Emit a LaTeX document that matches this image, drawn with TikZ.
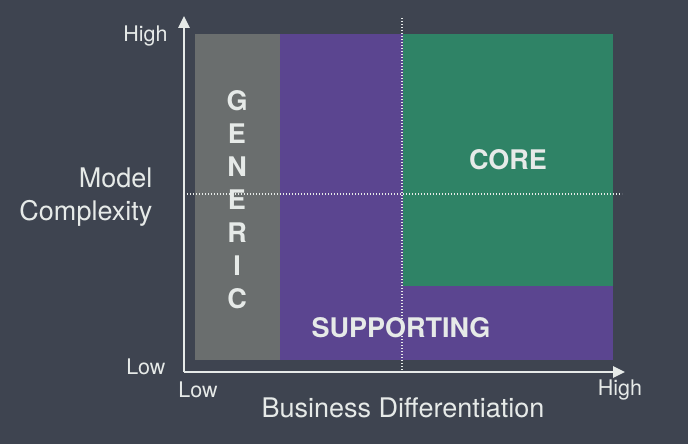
\documentclass[tikz,border=0pt]{standalone}
\usepackage{fontspec}
\setmainfont{TeX Gyre Heros}
\usetikzlibrary{arrows.meta}
\definecolor{bg}{HTML}{3E4450}
\definecolor{genericgray}{HTML}{6A6E6E}
\definecolor{supportpurple}{HTML}{5B4590}
\definecolor{coregreen}{HTML}{2F8366}
\definecolor{ink}{HTML}{E6EAE8}
\begin{document}
\begin{tikzpicture}[x=1pt,y=-1pt,
  axis/.style={draw=ink,line width=2.6pt,-{Triangle[width=11pt,length=12pt]}},
  guide/.style={draw=ink,line width=1.1pt,dash pattern=on 1.4pt off 1.6pt},
  tick/.style={text=ink,font=\fontsize{21.5}{21.5}\selectfont},
  title/.style={text=ink,font=\fontsize{27}{33}\selectfont},
  zone/.style={text=ink,font=\bfseries\fontsize{27}{27}\selectfont}]
\useasboundingbox[fill=bg] (0,0) rectangle (688,444);
% quadrant regions
\fill[genericgray] (195,34) rectangle (280,360);
\fill[supportpurple] (280,34) rectangle (613,360);
\fill[coregreen] (403,34) rectangle (613,286);
% guide lines splitting the quadrants
\coordinate (vtop) at (402,18);
\coordinate (vbot) at (402,372);
\coordinate (hleft) at (184,194);
\coordinate (hright) at (622,194);
\draw[guide] (vtop) -- (vbot);
\draw[guide] (hleft) -- (hright);
% axes
\coordinate (origin) at (184,372);
\coordinate (ytip) at (184,16);
\coordinate (xtip) at (625,372);
\draw[axis] (origin) -- (ytip);
\draw[axis] (origin) -- (xtip);
% axis ticks and titles
\node[tick,anchor=east] (yhigh) at (171,36) {High};
\node[tick,anchor=east] (ylow) at (169,367) {Low};
\node[tick] (xlow) at (198,390) {Low};
\node[tick] (xhigh) at (620,390) {High};
\node[title,align=right,anchor=east] (ytitle) at (156,197) {Model\\Complexity};
\node[title] (xtitle) at (403,408) {Business Differentiation};
% region labels
\foreach \ch [count=\i from 0] in {G,E,N,E,R,I,C}
  \node[zone] (gen\i) at (237,{101+33*\i}) {\ch};
\node[zone] (core) at (508,160) {CORE};
\node[zone] (supporting) at (401,328) {SUPPORTING};
\end{tikzpicture}
\end{document}
